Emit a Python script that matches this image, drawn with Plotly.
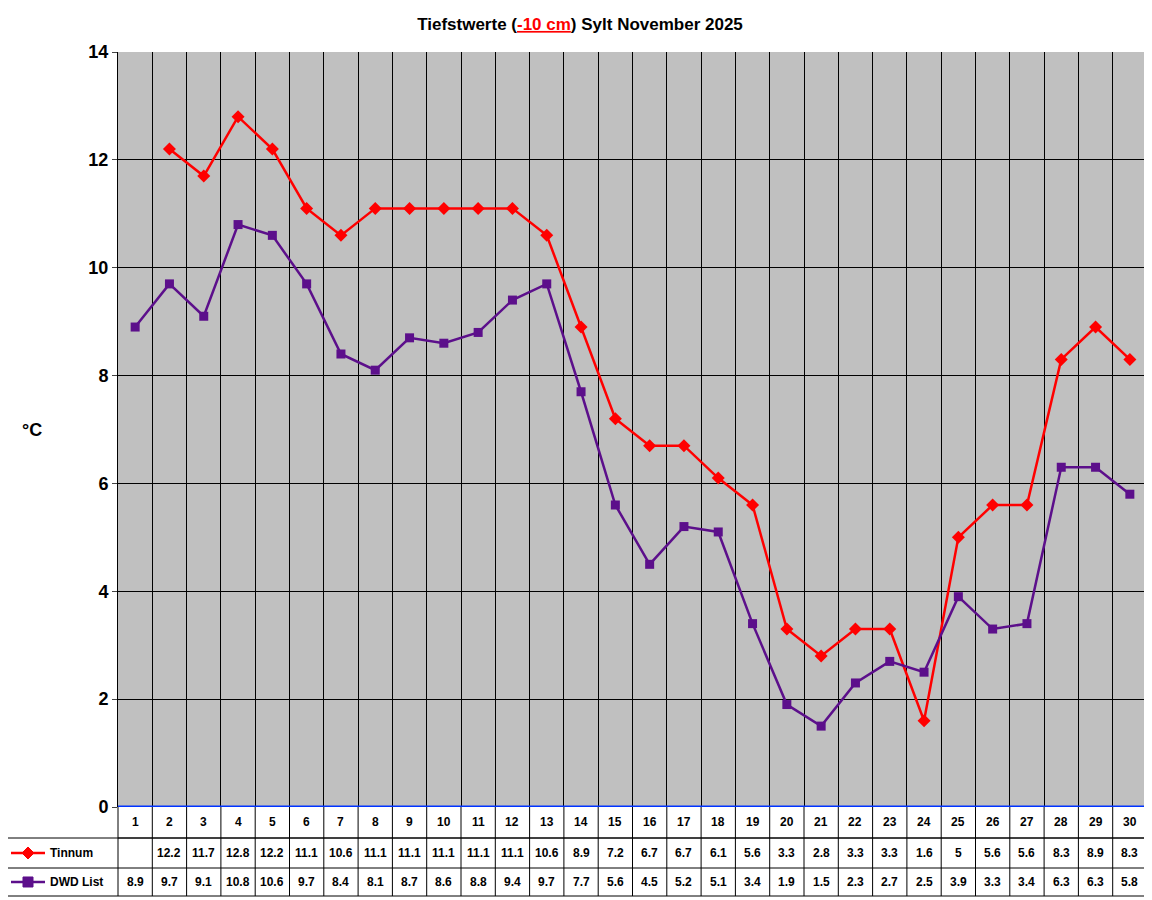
import plotly.graph_objs as go

days = list(range(1, 31))
tinnum = [None, 12.2, 11.7, 12.8, 12.2, 11.1, 10.6, 11.1, 11.1, 11.1, 11.1, 11.1, 10.6, 8.9, 7.2,
          6.7, 6.7, 6.1, 5.6, 3.3, 2.8, 3.3, 3.3, 1.6, 5, 5.6, 5.6, 8.3, 8.9, 8.3]
dwd = [8.9, 9.7, 9.1, 10.8, 10.6, 9.7, 8.4, 8.1, 8.7, 8.6, 8.8, 9.4, 9.7, 7.7, 5.6,
       4.5, 5.2, 5.1, 3.4, 1.9, 1.5, 2.3, 2.7, 2.5, 3.9, 3.3, 3.4, 6.3, 6.3, 5.8]
series_names = ['Tinnum', 'DWD List']
red = '#ff0000'
purple = '#5c0f8b'

# page body margin offsets the figure by 8px
OFF = 8
W, H = 1152 - OFF, 900 - OFF
L, R, T, B = 118 - OFF, 5, 52 - OFF, 93
pw, ph = W - L - R, H - T - B


def px(x):
    # x in reference screen pixels
    return (x - OFF - L) / pw


def py(y):
    return (H - B - (y - OFF)) / ph


fig = go.Figure()
fig.add_trace(go.Scatter(x=days, y=tinnum, mode='lines+markers', name=series_names[0],
                         line=dict(color=red, width=2.5),
                         marker=dict(symbol='diamond', size=10, color=red)))
fig.add_trace(go.Scatter(x=days, y=dwd, mode='lines+markers', name=series_names[1],
                         line=dict(color=purple, width=2.5),
                         marker=dict(symbol='square', size=9, color=purple)))

shapes = []
ann = []
line = dict(color='black', width=1)
rows = [807, 838, 868, 896]
shapes.append(dict(type='line', xref='paper', yref='paper', x0=0, x1=1, y0=py(838), y1=py(838), line=line))
for r in rows[1:]:
    shapes.append(dict(type='line', xref='paper', yref='paper', x0=px(7), x1=1, y0=py(r), y1=py(r), line=line))
shapes.append(dict(type='line', xref='paper', yref='paper', x0=px(7), x1=px(7), y0=py(838), y1=py(896), line=line))
for k in range(31):
    shapes.append(dict(type='line', xref='paper', yref='paper', x0=k / 30, x1=k / 30,
                       y0=py(807), y1=py(896), line=line))

font = dict(family='Arial', size=12, color='black')
for i, d in enumerate(days):
    xc = (i + 0.5) / 30
    ann.append(dict(x=xc, y=py(822), text='<b>%d</b>' % d))
    for vals, yc in ((tinnum, 853), (dwd, 882)):
        v = vals[i]
        if v is not None:
            ann.append(dict(x=xc, y=py(yc), text='<b>%g</b>' % v))

for name, col, sym, yc in ((series_names[0], red, 'diamond', 853), (series_names[1], purple, 'square', 882)):
    shapes.append(dict(type='line', xref='paper', yref='paper', x0=px(11), x1=px(45),
                       y0=py(yc), y1=py(yc), line=dict(color=col, width=2.5)))
    cx, cy = 28, yc
    if sym == 'diamond':
        path = 'M %f,%f L %f,%f L %f,%f L %f,%f Z' % (px(cx - 6), py(cy), px(cx), py(cy - 6),
                                                     px(cx + 6), py(cy), px(cx), py(cy + 6))
    else:
        path = 'M %f,%f L %f,%f L %f,%f L %f,%f Z' % (px(cx - 5), py(cy - 5), px(cx + 5), py(cy - 5),
                                                     px(cx + 5), py(cy + 5), px(cx - 5), py(cy + 5))
    shapes.append(dict(type='path', xref='paper', yref='paper', path=path,
                       fillcolor=col, line=dict(color=col, width=1)))
    ann.append(dict(x=px(48), y=py(yc), text='<b>%s</b>' % name, xanchor='left'))

for a in ann:
    a.setdefault('xanchor', 'center')
    a.update(xref='paper', yref='paper', showarrow=False, yanchor='middle', font=font)

ann.append(dict(xref='paper', yref='paper', x=px(20), y=py(430), text='<b>°C</b>', showarrow=False,
                font=dict(family='Arial', size=18, color='black')))

fig.update_layout(
    width=W, height=H,
    margin=dict(l=L, r=R, t=T, b=B),
    paper_bgcolor='white', plot_bgcolor='#c0c0c0',
    showlegend=False,
    title=dict(text="<b>Tiefstwerte (<span style='color:red'><u>-10 cm</u></span>) Sylt November 2025</b>",
               x=px(580), xanchor='center', xref='paper', y=1 - 16 / H, yanchor='middle',
               font=dict(family='Arial', size=17, color='black')),
    xaxis=dict(range=[0.5, 30.5], tick0=0.5, dtick=1, showticklabels=False, ticks='',
               gridcolor='black', gridwidth=1, zeroline=False, showline=False),
    yaxis=dict(range=[0, 14], dtick=2, gridcolor='black', gridwidth=1,
               zeroline=False, showline=True, linecolor='black', ticks='outside', ticklen=5,
               tickfont=dict(family='Arial', size=18, color='black', weight='bold')),
    shapes=shapes + [dict(type='line', xref='paper', yref='y', x0=0, x1=1, y0=0, y1=0,
                          line=dict(color='#0033ff', width=3))],
    annotations=ann,
)

fig.write_html('out.html')
